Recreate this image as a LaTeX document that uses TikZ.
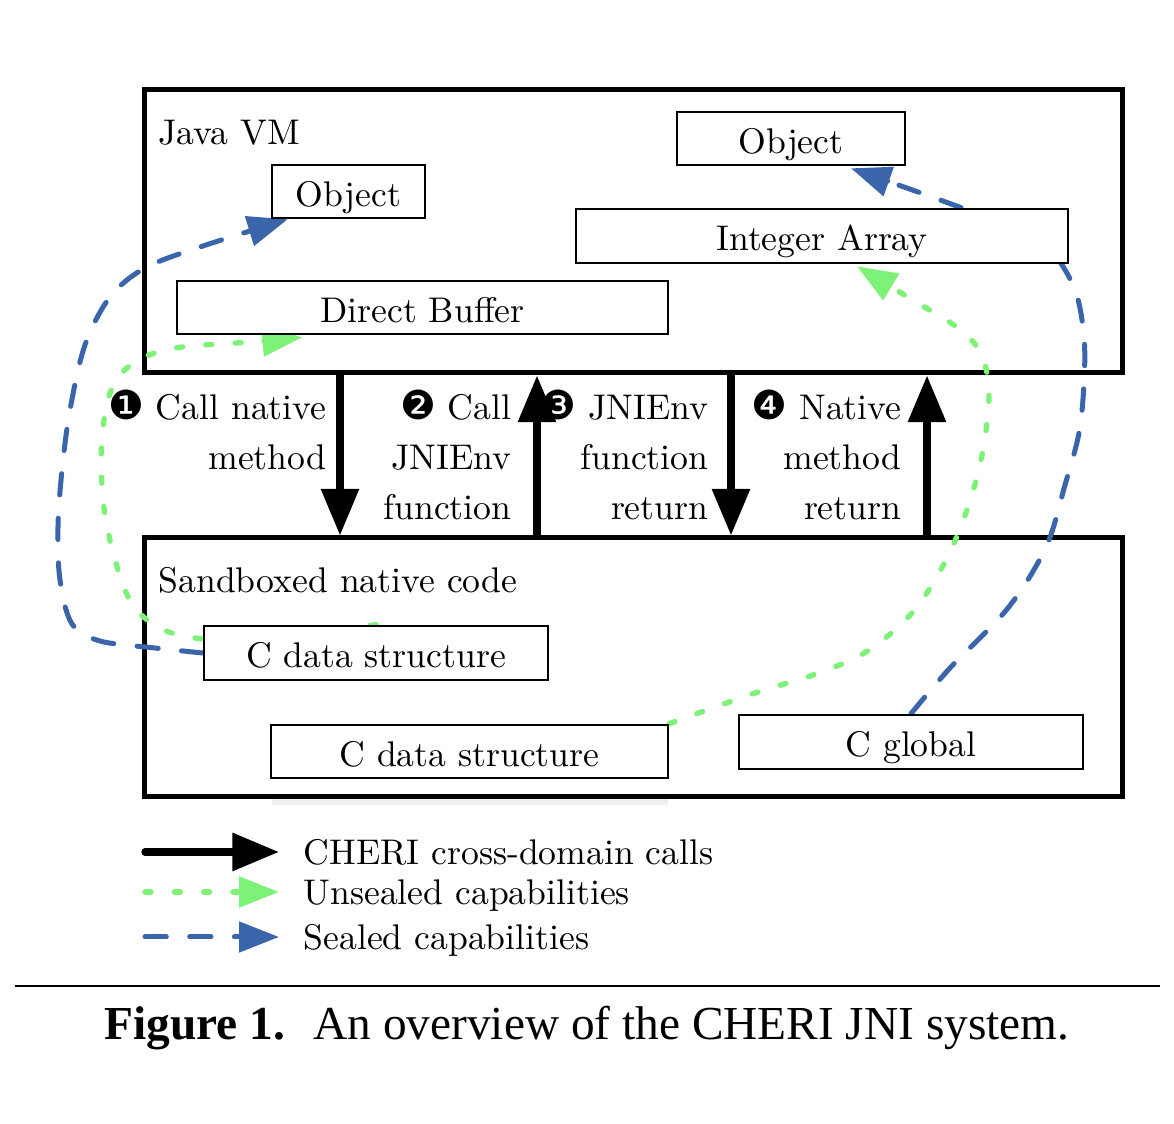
\documentclass[tikz,border=0pt]{standalone}
\usepackage{fontspec}
\newfontfamily\dingfont{DejaVu Sans}
\newfontfamily\capfont{Liberation Serif}
\usetikzlibrary{arrows.meta}
\definecolor{sealblue}{RGB}{58,101,170}
\definecolor{unsgreen}{RGB}{126,242,120}
\newcommand{\dnum}[1]{{\dingfont\fontsize{12}{12}\selectfont #1}}
\pgfdeclarelayer{back}
\pgfdeclarelayer{mid}
\pgfsetlayers{back,mid,main}
\begin{document}
\begin{tikzpicture}[x=0.3pt,y=-0.3pt,
  font=\fontsize{10.7}{15}\selectfont,
  outer/.style={draw, line width=1.5pt, minimum width=293.4pt, inner sep=0pt},
  ibox/.style={draw, fill=white, line width=0.8pt, inner sep=0pt, text height=9pt, text depth=0pt},
  callarrow/.style={line width=2.2pt, line cap=round, -{Triangle[length=14pt,width=11pt]}},
  sealed/.style={sealblue, line width=1.5pt, line cap=round, dash pattern=on 6.4pt off 7pt, -{Triangle[length=12pt,width=9pt]}},
  unsealed/.style={unsgreen, line width=1.6pt, line cap=round, dash pattern=on 1.8pt off 7pt, -{Triangle[length=12pt,width=9pt]}},
  lbl/.style={align=right, anchor=base east, inner sep=0pt},
  txt/.style={anchor=base west, inner sep=0pt}]
\useasboundingbox (0,0) rectangle (1174,1124);
\begin{pgfonlayer}{back}
\fill[white] (0,0) rectangle (1174,1124);
\node[outer, minimum height=84.9pt] (jvm) at (633,231.5) {};
\node[outer, minimum height=77.7pt] (sbx) at (633,667.5) {};
\fill[black!6] (272,799.5) rectangle (668,805);
\end{pgfonlayer}

\node[txt] (jvmlbl) at (158,145) {Java VM};
\node[txt] (sbxlbl) at (158,593) {Sandboxed native code};

% inner boxes
\node[ibox, minimum width=45.9pt, minimum height=15.9pt] (obj1) at (348.5,191.5) {Object};
\node[ibox, minimum width=68.4pt, minimum height=15.9pt] (obj2) at (791,138.5) {Object};
\node[ibox, minimum width=147.6pt, minimum height=16.2pt] (iarr) at (822,236) {Integer Array};
\node[ibox, minimum width=147.3pt, minimum height=15.9pt] (dbuf) at (422.5,307.5) {Direct Buffer};
\node[ibox, minimum width=103.2pt, minimum height=16.2pt] (cds1) at (376,653) {C data structure};
\node[ibox, minimum width=119.1pt, minimum height=15.9pt] (cds2) at (469.5,751.5) {C data structure};
\node[ibox, minimum width=103.2pt, minimum height=16.2pt] (cglob) at (911,742) {C global};

% tips
\coordinate (o1tip) at ([xshift=5.1pt]obj1.south west);
\coordinate (dbtip) at ([xshift=38pt,yshift=-0.6pt]dbuf.south west);
\coordinate (iatip) at ([xshift=10.5pt,yshift=-0.6pt]iarr.south);
\coordinate (o2tip) at ([xshift=18pt,yshift=-0.6pt]obj2.south);

\begin{pgfonlayer}{mid}
\draw[sealed] plot[smooth, tension=0.55] coordinates {(cds1.west) (155,648) (100,641) (72,624) (60,580) (58,527) (62,470) (70,410) (85,345) (110,297) (145,268) (200,247) (o1tip)};
\draw[unsealed] plot[smooth, tension=0.55] coordinates {(cds1.north) (250,640) (175,634) (135,608) (115,560) (103,500) (102,437) (112,388) (135,362) (175,348) (250,342) (dbtip)};
\draw[unsealed] plot[smooth, tension=0.55] coordinates {(cds2.north east) (755,693) (813,675) (866,652) (912,613) (945,562) (968,507) (983,450) (989,390) (980,352) (958,328) (916,302) (iatip)};
\draw[sealed] plot[smooth, tension=0.55] coordinates {(cglob.north) (950,668) (1008,608) (1046,547) (1065,485) (1079,433) (1084,383) (1084,337) (1075,290) (1050,250) (1008,225) (962,208) (918,192) (o2tip)};
\end{pgfonlayer}

% cross-domain call arrows
\coordinate (a1) at (340,450);
\coordinate (a2) at (537,450);
\coordinate (a3) at (731,450);
\coordinate (a4) at (927,450);
\draw[callarrow] (a1 |- jvm.south) -- (a1 |- sbx.north);
\draw[callarrow] (a2 |- sbx.north) -- (a2 |- jvm.south);
\draw[callarrow] (a3 |- jvm.south) -- (a3 |- sbx.north);
\draw[callarrow] (a4 |- sbx.north) -- (a4 |- jvm.south);

\node[lbl] (l1) at (327,470) {\dnum{❶} Call native\\method};
\node[lbl] (l2) at (512,520) {\dnum{❷} Call\\JNIEnv\\function};
\node[lbl] (l3) at (709,520) {\dnum{❸} JNIEnv\\function\\return};
\node[lbl] (l4) at (902,520) {\dnum{❹} Native\\method\\return};

% legend
\coordinate (lg1s) at (145,852);
\coordinate (lg1e) at (279,852);
\coordinate (lg2s) at (145,892);
\coordinate (lg2e) at (279,892);
\coordinate (lg3s) at (145,937);
\coordinate (lg3e) at (279,937);
\draw[callarrow] (lg1s) -- (lg1e);
\draw[unsealed] (lg2s) -- (lg2e);
\draw[sealed] (lg3s) -- (lg3e);
\node[txt] (lgt1) at (303,865) {CHERI cross-domain calls};
\node[txt] (lgt2) at (303,905) {Unsealed capabilities};
\node[txt] (lgt3) at (303,950) {Sealed capabilities};

% caption
\draw[line width=0.5pt] (15,986) -- (1160,986);
\node[anchor=base, inner sep=0pt, font=\capfont\fontsize{14.2}{16}\selectfont] (cap) at (587,1040) {\textbf{Figure 1.}\hspace{0.6em}An overview of the CHERI JNI system.};
\end{tikzpicture}
\end{document}
